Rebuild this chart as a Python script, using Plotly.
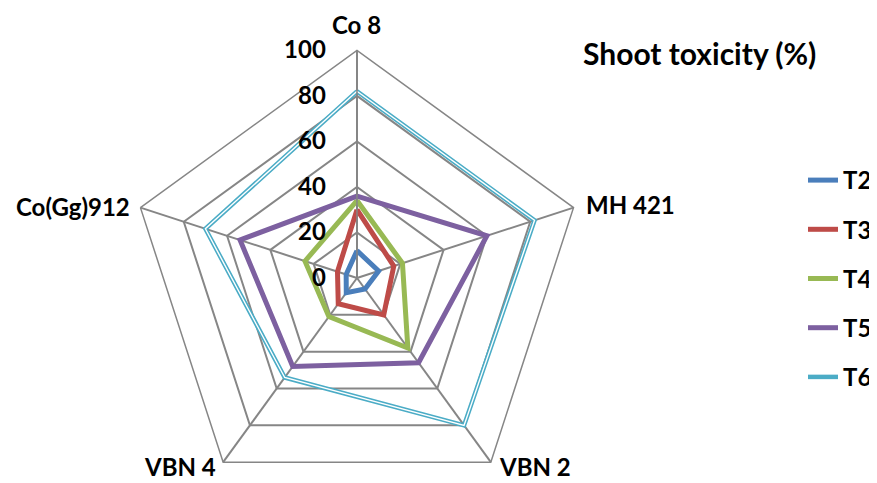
import plotly.graph_objects as go

categories = ["Co 8", "MH 421", "VBN 2", "VBN 4", "Co(Gg)912"]
T2 = [12, 10, 6, 8, 5]
T3 = [30, 17, 20, 14, 9]
T4 = [34, 21, 38, 21, 24]
T5 = [36, 60, 46, 48, 54]
T6 = [82, 82, 80, 54, 70]
series_names = ["T2", "T3", "T4", "T5", "T6"]
series_values = [T2, T3, T4, T5, T6]
colors = ["#4A7EBB", "#BE4B48", "#98B954", "#7D60A0", "#4BACC6"]
title_text = "Shoot toxicity (%)"

FONT = "Lato"
OFF = 8                      # page offset of the figure (body margin)
W = 877 - OFF
cx, cy, R = 359, 278, 229    # page coords of polar centre and radius
H = cy + R - OFF


def px(x):
    return (x - OFF) / W


def py(y):
    return (H - (y - OFF)) / H


fig = go.Figure()
for name, vals, col in zip(series_names, series_values, colors):
    th = categories + [categories[0]]
    rr = vals + [vals[0]]
    if name == "T6":
        fig.add_trace(go.Scatterpolar(r=rr, theta=th, mode="lines", name=name,
                                      line=dict(color=col, width=4.5), legendgroup=name))
        fig.add_trace(go.Scatterpolar(r=rr, theta=th, mode="lines", name=name,
                                      line=dict(color="white", width=1.4), legendgroup=name,
                                      showlegend=False, hoverinfo="skip"))
    else:
        fig.add_trace(go.Scatterpolar(r=rr, theta=th, mode="lines", name=name,
                                      line=dict(color=col, width=5), legendgroup=name))

grid = "#868686"
bold = lambda s: dict(family=FONT, size=s, color="black", weight="bold")

# category label placement (page coords) and anchors
label_pos = [(359, 24, "center"), (587, 205, "left"), (500, 466, "left"),
             (219, 466, "right"), (133, 207, "right")]
annotations = [dict(text=title_text, x=px(703), y=py(53), xref="paper", yref="paper",
                    xanchor="center", yanchor="middle", showarrow=False, font=bold(30))]
for cat, (x, y, anc) in zip(categories, label_pos):
    annotations.append(dict(text=cat, x=px(x), y=py(y), xref="paper", yref="paper",
                            xanchor=anc, yanchor="middle", showarrow=False, font=bold(24)))

fig.update_layout(
    width=W, height=H,
    margin=dict(l=0, r=0, t=0, b=0),
    paper_bgcolor="white",
    font=dict(family=FONT, color="black"),
    polar=dict(
        domain=dict(x=[px(cx - R), px(cx + R)], y=[0, 2 * R / H]),
        bgcolor="white",
        gridshape="linear",
        radialaxis=dict(range=[0, 100], dtick=20, angle=90, side="counterclockwise",
                        showline=True, linecolor=grid, linewidth=1.5,
                        gridcolor=grid, gridwidth=1.5,
                        ticks="outside", ticklen=22, tickcolor="rgba(0,0,0,0)",
                        tickfont=bold(24), tickangle=90),
        angularaxis=dict(direction="clockwise", rotation=90, showticklabels=False,
                         linecolor=grid, linewidth=1.5, gridcolor=grid, gridwidth=1.5,
                         ticks=""),
    ),
    legend=dict(x=px(808), y=py(158), xanchor="left", yanchor="top",
                font=bold(24), tracegroupgap=15, itemwidth=30, bgcolor="rgba(0,0,0,0)"),
    annotations=annotations,
)

fig.write_html("out.html")
